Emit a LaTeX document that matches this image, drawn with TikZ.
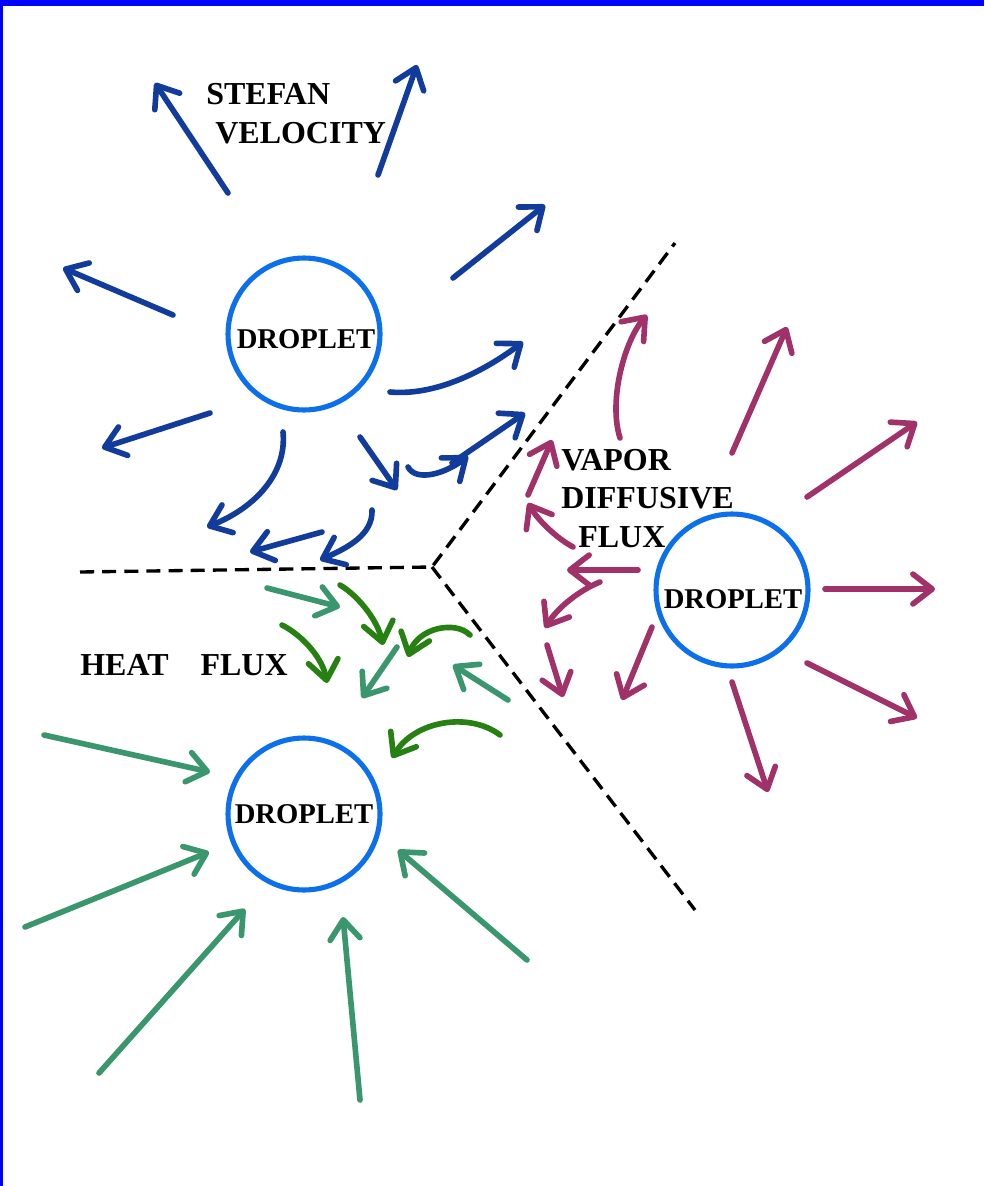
\documentclass[tikz,border=0pt]{standalone}
\usepackage{fontspec}
\setmainfont{Liberation Serif}
\usetikzlibrary{arrows.meta}
\definecolor{frameblue}{RGB}{0,0,255}
\definecolor{dropblue}{RGB}{12,112,238}
\definecolor{stefan}{RGB}{18,60,155}
\definecolor{seagreen}{RGB}{58,150,108}
\definecolor{darkgreen}{RGB}{38,128,18}
\definecolor{vapor}{RGB}{160,50,105}
\tikzset{
  arr/.style={line width=3.2pt, line cap=round, line join=round,
    -{Straight Barb[length=11pt,width=17pt,line cap=round,line join=round]}},
  bluearr/.style={arr, draw=stefan},
  sgarr/.style={arr, draw=seagreen},
  dgarr/.style={arr, draw=darkgreen},
  magarr/.style={arr, draw=vapor},
  droplet/.style={circle, draw=dropblue, line width=2.9pt, minimum size=3.04cm, inner sep=0pt},
  droplabel/.style={font=\fontsize{16.3pt}{18pt}\selectfont\bfseries, inner sep=0pt, anchor=base},
  biglabel/.style={font=\fontsize{18.2pt}{20pt}\selectfont\bfseries, inner sep=0pt, anchor=base west},
  divider/.style={black, line width=1.9pt, dash pattern=on 8pt off 4.6pt}
}
\begin{document}
\begin{tikzpicture}[x=0.02cm,y=-0.02cm]
\fill[white] (0,0) rectangle (984,1186);
\useasboundingbox (0,0) rectangle (984,1186);
\fill[frameblue] (0,0) rectangle (984,6);
\fill[frameblue] (0,0) rectangle (3,1186);

% droplets
\node[droplet] (dtop) at (304,334) {};
\node[droplet] (dbot) at (304,814) {};
\node[droplet] (dright) at (732,590) {};
\node[droplabel] (ltop) at (306,348) {DROPLET};
\node[droplabel] (lbot) at (304,823) {DROPLET};
\node[droplabel] (lright) at (733,608) {DROPLET};

% labels
\node[biglabel] (st1) at (206,105) {STEFAN};
\node[biglabel] (st2) at (215,143) {VELOCITY};
\node[biglabel] (vp1) at (561,470) {VAPOR};
\node[biglabel] (vp2) at (561,508) {DIFFUSIVE};
\node[biglabel] (vp3) at (578,547) {FLUX};
\node[biglabel] (hf) at (80,675) {HEAT\hspace{0.64cm}FLUX};

% dividers
\coordinate (vtx) at (432,567);
\coordinate (dl) at (80,572);
\coordinate (du) at (675,243);
\coordinate (dd) at (695,910);
\draw[divider] (dl) -- (vtx) -- (du);
\draw[divider] (vtx) -- (dd);

% Stefan velocity arrows
\draw[bluearr] (228,193) -- (155,83);
\draw[bluearr] (378,175) -- (417,65);
\draw[bluearr] (453,278) -- (545,205);
\draw[bluearr] (173,315) -- (63,268);
\draw[bluearr] (390,392) .. controls (435,396) and (483,372) .. (523,342);
\draw[bluearr] (360,437) -- (397,490);
\draw[bluearr] (283,432) .. controls (287,472) and (257,507) .. (207,527);
\draw[bluearr] (210,413) -- (102,448);
\draw[bluearr] (322,532) -- (250,552);
\draw[bluearr] (372,510) .. controls (373,535) and (347,548) .. (320,560);
\draw[bluearr] (408,467) .. controls (416,482) and (445,474) .. (468,456);
\draw[bluearr] (452,463) -- (525,413);

% heat flux arrows
\draw[sgarr] (44,735) -- (210,772);
\draw[sgarr] (25,927) -- (209,852);
\draw[sgarr] (99,1073) -- (245,909);
\draw[sgarr] (360,1100) -- (343,917);
\draw[sgarr] (527,960) -- (398,850);
\draw[sgarr] (267,588) -- (340,607);
\draw[sgarr] (397,647) -- (362,698);
\draw[sgarr] (508,700) -- (453,665);
\draw[dgarr] (340,585) .. controls (360,597) and (378,622) .. (383,645);
\draw[dgarr] (470,635) .. controls (455,620) and (418,628) .. (408,657);
\draw[dgarr] (282,625) .. controls (305,637) and (323,660) .. (327,683);
\draw[dgarr] (500,735) .. controls (470,712) and (415,720) .. (392,758);

% vapor diffusive flux arrows
\draw[magarr] (732,453) -- (787,327);
\draw[magarr] (807,497) -- (917,422);
\draw[magarr] (825,589) -- (935,589);
\draw[magarr] (807,663) -- (917,718);
\draw[magarr] (732,682) -- (768,792);
\draw[magarr] (620,438) .. controls (608,400) and (625,340) .. (647,315);
\draw[magarr] (528,495) -- (552,440);
\draw[magarr] (573,547) .. controls (555,537) and (538,520) .. (528,503);
\draw[magarr] (638,570) -- (567,570);
\draw[magarr] (600,582) .. controls (580,590) and (558,607) .. (545,628);
\draw[magarr] (547,645) -- (563,697);
\draw[magarr] (652,627) -- (622,700);
\end{tikzpicture}
\end{document}
